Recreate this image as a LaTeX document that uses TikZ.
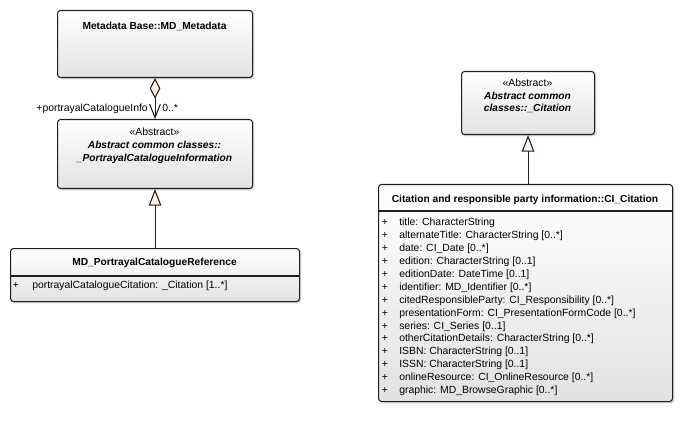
\documentclass[tikz,border=0pt]{standalone}
\usepackage{fontspec}
\setmainfont{Liberation Sans}
\usetikzlibrary{arrows.meta,shadows}

\definecolor{boxgray}{RGB}{226,226,226}
\definecolor{cream}{RGB}{253,244,230}
\definecolor{edge}{RGB}{30,30,30}

\tikzset{
  umlbox/.style n args={2}{draw=edge, line width=0.8pt, rounded corners=2.25pt,
    top color=white, bottom color=boxgray, inner sep=0pt, anchor=north west,
    minimum width=#1*0.75pt, minimum height=#2*0.75pt,
    drop shadow={shadow xshift=1.4pt, shadow yshift=-1.4pt, fill=black!30, opacity=0.5}},
  basetext/.style={inner sep=0pt, font=\fontsize{7.8pt}{9.4pt}\selectfont,
    text height=1.55ex, text depth=0.45ex},
  classname/.style={basetext, font=\fontsize{7.65pt}{9.2pt}\selectfont\bfseries},
  absname/.style={basetext, font=\fontsize{7.65pt}{9.2pt}\selectfont\bfseries\itshape},
  stereo/.style={basetext},
  attr/.style={basetext, anchor=west},
  vis/.style={basetext},
  rolelabel/.style={basetext},
  sepline/.style={draw=edge, line width=0.8pt},
  aggregation/.style={draw=edge, line width=0.8pt,
    {Diamond[fill=cream, length=15.5pt, width=8pt, line width=0.8pt]}-{Straight Barb[length=10pt, width=8pt, line width=0.8pt]}},
  generalization/.style={draw=edge, line width=0.8pt,
    -{Triangle[open, fill=cream, length=12.5pt, width=9.5pt, line width=0.8pt]}},
}

\begin{document}
\begin{tikzpicture}[x=0.75pt, y=-0.75pt]
\useasboundingbox (0,0) rectangle (682,431);

% ---- MD_Metadata
\node[umlbox={195}{67}] (meta) at (57,10) {};
\node[classname] (meta-t) at (154.5,26) {Metadata Base::MD\_Metadata};

% ---- _PortrayalCatalogueInformation
\node[umlbox={195}{69}] (pci) at (57,119) {};
\node[stereo] (pci-s) at (154.5,132) {«Abstract»};
\node[absname] (pci-n1) at (154.5,145) {Abstract common classes::};
\node[absname] (pci-n2) at (154.5,157.5) {\_PortrayalCatalogueInformation};

% ---- MD_PortrayalCatalogueReference
\node[umlbox={289}{53}] (ref) at (10,248) {};
\node[classname] (ref-t) at (154.5,262) {MD\_PortrayalCatalogueReference};
\coordinate (ref-sl) at (10,276);
\coordinate (ref-sr) at (299,276);
\draw[sepline] (ref-sl) -- (ref-sr);
\node[vis] (ref-p1) at (16,285) {+};
\node[attr] (ref-a1) at (32,285) {portrayalCatalogueCitation: \_Citation [1..*]};

% ---- _Citation
\node[umlbox={133}{63}] (cit) at (461,71) {};
\node[stereo] (cit-s) at (527.5,83) {«Abstract»};
\node[absname] (cit-n1) at (527.5,95.5) {Abstract common};
\node[absname] (cit-n2) at (527.5,108) {classes::\_Citation};

% ---- CI_Citation
\node[umlbox={294}{217}] (ci) at (378,184) {};
\node[classname] (ci-t) at (525,199) {Citation and responsible party information::CI\_Citation};
\coordinate (ci-sl) at (378,211);
\coordinate (ci-sr) at (672,211);
\draw[sepline] (ci-sl) -- (ci-sr);
\foreach \txt [count=\i] in {
  {title: CharacterString},
  {alternateTitle: CharacterString [0..*]},
  {date: CI\_Date [0..*]},
  {edition: CharacterString [0..1]},
  {editionDate: DateTime [0..1]},
  {identifier: MD\_Identifier [0..*]},
  {citedResponsibleParty: CI\_Responsibility [0..*]},
  {presentationForm: CI\_PresentationFormCode [0..*]},
  {series: CI\_Series [0..1]},
  {otherCitationDetails: CharacterString [0..*]},
  {ISBN: CharacterString [0..1]},
  {ISSN: CharacterString [0..1]},
  {onlineResource: CI\_OnlineResource [0..*]},
  {graphic: MD\_BrowseGraphic [0..*]}} {
  \node[vis] (ci-p\i) at (385,{222+(\i-1)*12.9}) {+};
  \node[attr] (ci-a\i) at (399,{222+(\i-1)*12.9}) {\txt};
}

% ---- connectors
\draw[aggregation] (meta.south) -- (pci.north);
\node[rolelabel, anchor=east] (role) at (148,108) {+portrayalCatalogueInfo};
\node[rolelabel, anchor=west] (mult) at (162,108) {0..*};

\draw[generalization] (ref.north) -- (pci.south);
\draw[generalization] (cit.south |- ci.north) -- (cit.south);
\end{tikzpicture}
\end{document}
